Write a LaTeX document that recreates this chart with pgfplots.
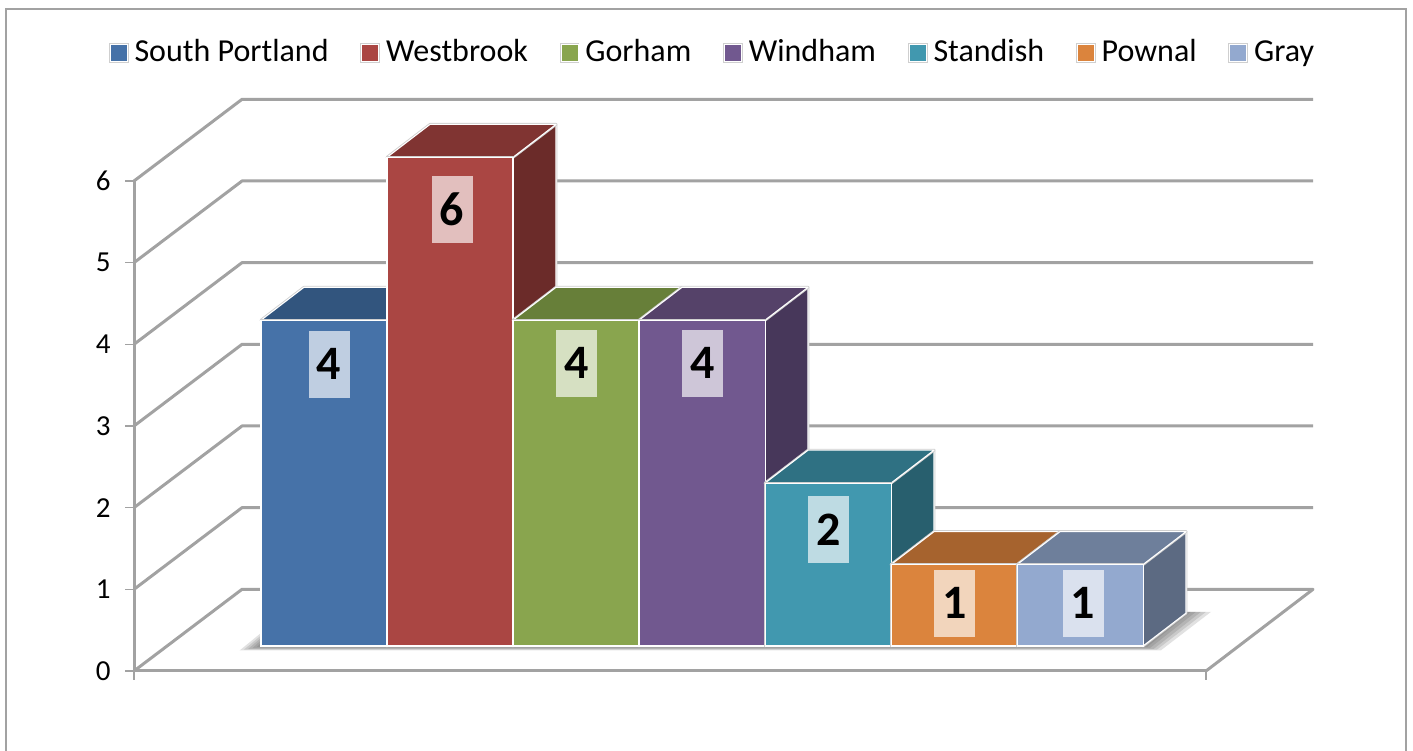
\documentclass[border=0pt]{standalone}
\usepackage{pgfplots}
\pgfplotsset{compat=1.18}
\usepackage{fontspec}
\setmainfont{Carlito}
\definecolor{wallgray}{HTML}{A2A2A2}
\definecolor{edge}{HTML}{CFCFCF}
\definecolor{shade}{HTML}{505050}
\definecolor{fblue}{HTML}{4672A8}\definecolor{tblue}{HTML}{32557E}\definecolor{sblue}{HTML}{2A4767}
\definecolor{fred}{HTML}{AA4643}\definecolor{tred}{HTML}{803432}\definecolor{sred}{HTML}{6B2B29}
\definecolor{fgreen}{HTML}{89A54E}\definecolor{tgreen}{HTML}{677F39}\definecolor{sgreen}{HTML}{556A30}
\definecolor{fpurple}{HTML}{71588F}\definecolor{tpurple}{HTML}{554269}\definecolor{spurple}{HTML}{47375A}
\definecolor{fteal}{HTML}{4198AF}\definecolor{tteal}{HTML}{2F7183}\definecolor{steal}{HTML}{285F6E}
\definecolor{forange}{HTML}{DB843D}\definecolor{torange}{HTML}{A6632E}\definecolor{sorange}{HTML}{8A5226}
\definecolor{fgray}{HTML}{93A9CF}\definecolor{tgray}{HTML}{6E7F9B}\definecolor{sgray}{HTML}{5C6A82}
\pgfplotsset{
  face/.style={fill=#1,draw=white,line width=1.1pt,line join=round,forget plot,
    preaction={draw=edge,line width=2.8pt}},
  front/.style={ybar,bar width=1,bar shift=0pt,fill=#1,draw=white,line width=1.1pt,
    preaction={draw=edge,line width=2.8pt}},
  lab/.style 2 args={nodes near coords,
    every node near coord/.append style={anchor=center,xshift=#1,yshift=#2,
      font=\fontsize{48pt}{48pt}\selectfont\bfseries,text=black,fill=white,fill opacity=0.66,text opacity=1,
      minimum width=41pt,minimum height=67pt,inner sep=0pt}},
  wall/.style={draw=wallgray,line width=3pt,line join=round,forget plot},
  shadow/.style={forget plot,draw=none,fill=shade,fill opacity=0.17},
}
\begin{document}
\begin{tikzpicture}[x=1pt,y=1pt]
\useasboundingbox (0,0) rectangle (1413,751);
\draw[wallgray,line width=2pt] (6,0) -- (6,742) -- (1406,742) -- (1406,0);
% walls with the value axis
\begin{axis}[
  at={(134pt,80pt)},anchor=south west,scale only axis,width=1072pt,height=490pt,
  xmin=0,xmax=1072,ymin=0,ymax=6,clip=false,
  axis x line=bottom,axis y line=left,
  axis line style={draw=wallgray,line width=3pt,-},
  xtick={0,1072},xticklabels={},
  ytick={0,1,2,3,4,5,6},
  tick style={draw=wallgray,line width=1.5pt},
  major tick length=9pt,tick align=outside,
  yticklabel style={font=\fontsize{29pt}{29pt}\selectfont,xshift=-11pt},
  /pgf/number format/assume math mode=true,
  mark=none,
]
\addplot[wall] coordinates {(0,0)(108,1)(1179,1)(1072,0)};
\addplot[wall] coordinates {(0,1)(108,2)(1179,2)};
\addplot[wall] coordinates {(0,2)(108,3)(1179,3)};
\addplot[wall] coordinates {(0,3)(108,4)(1179,4)};
\addplot[wall] coordinates {(0,4)(108,5)(1179,5)};
\addplot[wall] coordinates {(0,5)(108,6)(1179,6)};
\addplot[wall] coordinates {(0,6)(108,7)(1179,7)};
\end{axis}
% bars: x in bar widths from the first bar's left edge, y in values
\begin{axis}[
  at={(0pt,0pt)},anchor=south west,scale only axis,width=1413pt,height=751pt,
  xmin=-2.0714,xmax=9.1429,ymin=-1.2891,ymax=7.9313,
  hide axis,clip=false,
  /pgf/number format/assume math mode=true,
  legend columns=7,
  legend style={at={(108.5/1413,1-53/751)},anchor=west,draw=none,fill=none,inner sep=0pt,
    font=\fontsize{32pt}{32pt}\selectfont,
    nodes={text height=24pt,text depth=7pt},
    /tikz/every even column/.append style={column sep=29.7pt},
    /tikz/every odd column/.append style={column sep=4pt}},
  legend cell align=left,
  legend image code/.code={\fill[#1,draw=white,line width=0.6pt] (0pt,-8.5pt) rectangle (17pt,8.5pt);},
]
% floor shadow
\addplot[shadow] coordinates {(-0.17,-0.055)(7.14,-0.055)(7.54,0.42)(7.34,0.42)(7,0)(0,0)(0,0.16)} --cycle;
\addplot[shadow] coordinates {(-0.136,-0.045)(7.11,-0.045)(7.50,0.42)(7.34,0.42)(7,0)(0,0)(0,0.13)} --cycle;
\addplot[shadow] coordinates {(-0.102,-0.035)(7.085,-0.035)(7.46,0.42)(7.34,0.42)(7,0)(0,0)(0,0.10)} --cycle;
\addplot[shadow] coordinates {(-0.068,-0.025)(7.055,-0.025)(7.42,0.42)(7.34,0.42)(7,0)(0,0)(0,0.07)} --cycle;
\addplot[shadow] coordinates {(-0.034,-0.015)(7.03,-0.015)(7.38,0.42)(7.34,0.42)(7,0)(0,0)(0,0.04)} --cycle;
% South Portland
\addplot[face=sblue] coordinates {(1,0)(1.341,0.404)(1.341,4.404)(1,4)} --cycle;
\addplot[face=tblue] coordinates {(0,4)(1,4)(1.341,4.404)(0.341,4.404)} --cycle;
\addplot[front=fblue,lab={5pt}{-44pt}] coordinates {(0.5,4)};
\addlegendentry{South Portland}
% Westbrook
\addplot[face=sred] coordinates {(2,0)(2.341,0.404)(2.341,6.404)(2,6)} --cycle;
\addplot[face=tred] coordinates {(1,6)(2,6)(2.341,6.404)(1.341,6.404)} --cycle;
\addplot[front=fred,lab={2pt}{-52pt}] coordinates {(1.5,6)};
\addlegendentry{Westbrook}
% Gorham
\addplot[face=sgreen] coordinates {(3,0)(3.341,0.404)(3.341,4.404)(3,4)} --cycle;
\addplot[face=tgreen] coordinates {(2,4)(3,4)(3.341,4.404)(2.341,4.404)} --cycle;
\addplot[front=fgreen,lab={0.5pt}{-43pt}] coordinates {(2.5,4)};
\addlegendentry{Gorham}
% Windham
\addplot[face=spurple] coordinates {(4,0)(4.341,0.404)(4.341,4.404)(4,4)} --cycle;
\addplot[face=tpurple] coordinates {(3,4)(4,4)(4.341,4.404)(3.341,4.404)} --cycle;
\addplot[front=fpurple,lab={0.5pt}{-43pt}] coordinates {(3.5,4)};
\addlegendentry{Windham}
% Standish
\addplot[face=steal] coordinates {(5,0)(5.341,0.404)(5.341,2.404)(5,2)} --cycle;
\addplot[face=tteal] coordinates {(4,2)(5,2)(5.341,2.404)(4.341,2.404)} --cycle;
\addplot[front=fteal,lab={0.5pt}{-46.5pt}] coordinates {(4.5,2)};
\addlegendentry{Standish}
% Pownal
\addplot[face=sorange] coordinates {(6,0)(6.341,0.404)(6.341,1.404)(6,1)} --cycle;
\addplot[face=torange] coordinates {(5,1)(6,1)(6.341,1.404)(5.341,1.404)} --cycle;
\addplot[front=forange,lab={0.5pt}{-38.5pt}] coordinates {(5.5,1)};
\addlegendentry{Pownal}
% Gray
\addplot[face=sgray] coordinates {(7,0)(7.341,0.404)(7.341,1.404)(7,1)} --cycle;
\addplot[face=tgray] coordinates {(6,1)(7,1)(7.341,1.404)(6.341,1.404)} --cycle;
\addplot[front=fgray,lab={3pt}{-38.5pt}] coordinates {(6.5,1)};
\addlegendentry{Gray}
\end{axis}
\end{tikzpicture}
\end{document}
